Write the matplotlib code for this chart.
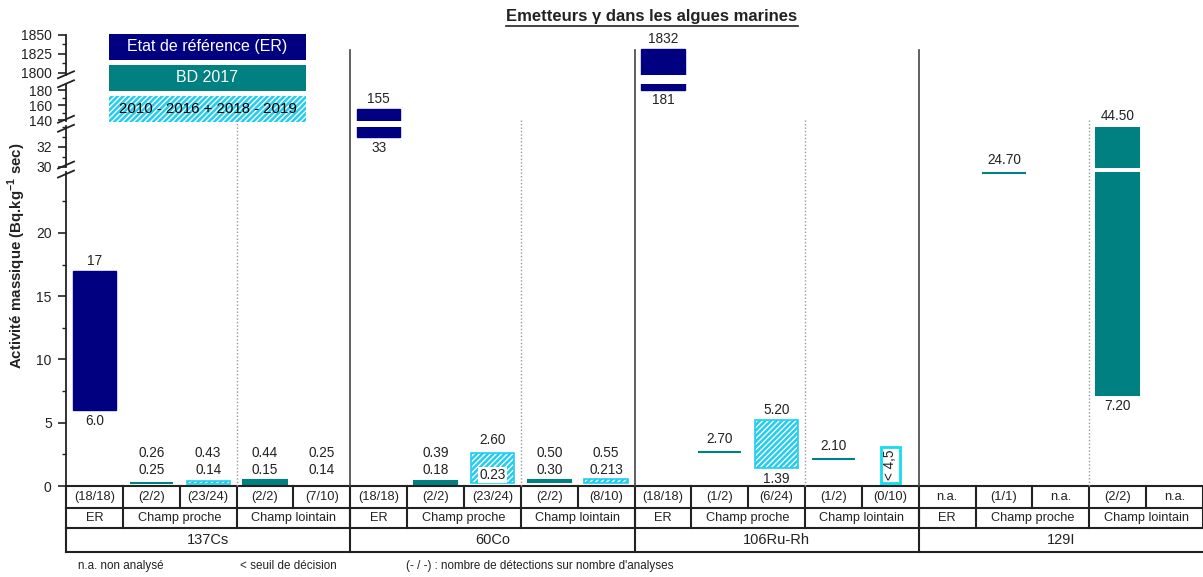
import numpy as np
import matplotlib
matplotlib.use('Agg')
import matplotlib.pyplot as plt
import matplotlib.transforms as mtransforms
from matplotlib.patches import Rectangle
from matplotlib.lines import Line2D
from matplotlib.ticker import MultipleLocator, FixedLocator

plt.rcParams['font.family'] = ['Liberation Sans', 'DejaVu Sans']
plt.rcParams['mathtext.fontset'] = 'custom'
plt.rcParams['mathtext.rm'] = 'Liberation Sans'
plt.rcParams['mathtext.bf'] = 'Liberation Sans:bold'
plt.rcParams['hatch.linewidth'] = 1.0

# ---- data ----
elements = ['137Cs', '60Co', '106Ru-Rh', '129I']
zones = ['ER', 'Champ proche', 'Champ lointain']
zone_span = [1, 2, 2]
counts = ['(18/18)', '(2/2)', '(23/24)', '(2/2)', '(7/10)',
          '(18/18)', '(2/2)', '(23/24)', '(2/2)', '(8/10)',
          '(18/18)', '(1/2)', '(6/24)', '(1/2)', '(0/10)',
          'n.a.', '(1/1)', 'n.a.', '(2/2)', 'n.a.']
# ER = etat de reference, BD = BD 2017 bar, BDline = BD 2017 single value, HIST = 2010-2016 + 2018-2019
series = ['ER', 'BD', 'HIST', 'BD', '',
          'ER', 'BD', 'HIST', 'BD', 'HIST',
          'ER', 'BDline', 'HIST', 'BDline', '',
          '', 'BDline', '', 'BD', '']
low = [6.0, 0.25, 0.14, 0.15, 0.14,
       33, 0.18, 0.23, 0.30, 0.213,
       181, 2.70, 1.39, 2.10, np.nan,
       np.nan, 24.70, np.nan, 7.20, np.nan]
high = [17, 0.26, 0.43, 0.44, 0.25,
        155, 0.39, 2.60, 0.50, 0.55,
        1832, 2.70, 5.20, 2.10, 4.5,
        np.nan, 24.70, np.nan, 44.50, np.nan]
low_txt = ['6.0', '0.25', '0.14', '0.15', '0.14',
           '33', '0.18', '0.23', '0.30', '0.213',
           '181', '', '1.39', '', '',
           '', '', '', '7.20', '']
high_txt = ['17', '0.26', '0.43', '0.44', '0.25',
            '155', '0.39', '2.60', '0.50', '0.55',
            '1832', '2.70', '5.20', '2.10', '< 4,5',
            '', '24.70', '', '44.50', '']
label_mode = ['split', 'stack', 'stack', 'stack', 'stack',
              'split', 'stack', 'inside', 'stack', 'stack',
              'split', 'line', 'split', 'line', 'limit',
              '', 'line', '', 'split', '']

legend_names = ['Etat de référence (ER)', 'BD 2017', '2010 - 2016 + 2018 - 2019']

# broken y axis: value range of each piece (bottom to top)
seg_lims = [(0, 24.85), (29.95, 34.05), (139, 189), (1797, 1850)]
seg_ticks = [[0, 5, 10, 15, 20], [30, 32], [140, 160, 180], [1800, 1825, 1850]]
seg_minor = [2.5, 1, 10, 12.5]

navy = '#000080'
teal = '#008080'
cyan = '#22CDEE'
dark = '#222222'

W, H = 1203, 577
fig = plt.figure(figsize=(W / 100, H / 100), dpi=100)

# pixel layout of the pieces (bottom, top)
seg_px = [(486, 171.6), (167.5, 126.5), (121, 83.5), (75, 35)]
x0, x1 = 66, 1203

axes = []
for (lo, hi), (yb, yt), mj, mn in zip(seg_lims, seg_px, seg_ticks, seg_minor):
    ax = fig.add_axes([x0 / W, 1 - yb / H, (x1 - x0) / W, (yb - yt) / H])
    ax.set_xlim(0, 20)
    ax.set_ylim(lo, hi)
    ax.patch.set_alpha(0)
    for s in ['top', 'right', 'bottom']:
        ax.spines[s].set_visible(False)
    ax.spines['left'].set_color(dark)
    ax.spines['left'].set_linewidth(1.3)
    ax.tick_params(axis='x', bottom=False, labelbottom=False)
    ax.yaxis.set_major_locator(FixedLocator(mj))
    ax.yaxis.set_minor_locator(MultipleLocator(mn))
    ax.tick_params(axis='y', which='major', direction='out', length=5.8, width=1.2,
                   labelsize=10, pad=4.5, colors=dark)
    ax.tick_params(axis='y', which='minor', direction='out', length=2.9, width=1.0, colors=dark)
    axes.append(ax)

bw = 0.76
px = 0.72  # points per pixel at 100 dpi


def visible(v_lo, v_hi):
    return [ax for ax in axes if v_hi >= ax.get_ylim()[0] and v_lo <= ax.get_ylim()[1]]


# bars and lines
for i in range(20):
    xc = i + 0.5
    kind = series[i]
    for ax in axes:
        if kind == 'ER':
            ax.bar(xc, high[i] - low[i], bottom=low[i], width=bw, color=navy, edgecolor=navy, lw=1)
        elif kind == 'BD':
            ax.bar(xc, high[i] - low[i], bottom=low[i], width=bw, color=teal, edgecolor=teal, lw=1.5)
        elif kind == 'HIST':
            ax.bar(xc, high[i] - low[i], bottom=low[i], width=bw, color=cyan, edgecolor='white',
                   hatch='//////', lw=0)
            ax.bar(xc, high[i] - low[i], bottom=low[i], width=bw, fill=False, edgecolor=cyan, lw=1.2)
        elif kind == 'BDline':
            ax.hlines(high[i], xc - bw / 2, xc + bw / 2, color=teal, lw=1.5)

# value labels
lab = dict(ha='center', va='center', fontsize=9.8, color=dark, textcoords='offset points',
           annotation_clip=False)
for i in range(20):
    xc = i + 0.5
    mode = label_mode[i]
    if mode == 'split' or mode == 'inside':
        segs = visible(low[i], high[i])
        top_ax, bot_ax = segs[-1], segs[0]
        ytop = min(high[i], top_ax.get_ylim()[1])
        ybot = max(low[i], bot_ax.get_ylim()[0])
        if mode == 'split':
            top_ax.annotate(high_txt[i], (xc, ytop), xytext=(0, 10 * px), **lab)
            bot_ax.annotate(low_txt[i], (xc, ybot), xytext=(0, -11 * px), **lab)
        else:
            top_ax.annotate(high_txt[i], (xc, ytop), xytext=(0, 13 * px), **lab)
            bot_ax.annotate(low_txt[i], (xc, ybot), xytext=(0, 8 * px),
                            bbox=dict(boxstyle='square,pad=0.1', fc='white', ec='none'), **lab)
    elif mode == 'stack':
        axes[0].annotate(high_txt[i], (xc, 0), xytext=(0, 33 * px), **lab)
        axes[0].annotate(low_txt[i], (xc, 0), xytext=(0, 16 * px), **lab)
    elif mode == 'line':
        ax = visible(high[i], high[i])[0]
        ax.annotate(high_txt[i], (xc, high[i]), xytext=(0, 13 * px), **lab)
    elif mode == 'limit':
        axes[0].annotate(high_txt[i], (xc, 0), xytext=(0, 21 * px), rotation=90,
                         bbox=dict(boxstyle='square,pad=0.2', fc='white', ec='#10DDF0', lw=2),
                         **lab)

# break marks on the y axis
for k in range(3):
    g = (seg_px[k][1] + seg_px[k + 1][0]) / 2
    for d in (-4.5, 4.5):
        fig.add_artist(Line2D([(x0 - 8) / W, (x0 + 8) / W],
                              [1 - (g + d + 3.5) / H, 1 - (g + d - 3.5) / H],
                              color=dark, lw=1.3))

# group separators through all pieces
blend = mtransforms.blended_transform_factory(axes[0].transData, fig.transFigure)
for e in range(1, 4):
    fig.add_artist(Line2D([5 * e, 5 * e], [1 - 50 / H, 1 - 486 / H], transform=blend,
                          color='#444444', lw=1.2))
for e in range(4):
    fig.add_artist(Line2D([5 * e + 3, 5 * e + 3], [1 - 120 / H, 1 - 486 / H], transform=blend,
                          color='#999999', lw=1.0, ls=(0, (1, 1.5))))

# table under the chart
tab = fig.add_axes([x0 / W, 1 - 552 / H, (x1 - x0) / W, 66 / H])
tab.set_xlim(0, 20)
tab.set_ylim(66, 0)
tab.axis('off')
rows = [0, 22, 42, 66]
for r in rows:
    tab.plot([0, 20], [r, r], color=dark, lw=1.5, clip_on=False)
zone_edges = np.cumsum([0] + zone_span)
for k in range(21):
    tab.plot([k, k], [rows[0], rows[1]], color=dark, lw=1.5, clip_on=False)
for e in range(4):
    for z in zone_edges:
        tab.plot([5 * e + z, 5 * e + z], [rows[1], rows[2]], color=dark, lw=1.5, clip_on=False)
    tab.plot([5 * e, 5 * e], [rows[2], rows[3]], color=dark, lw=1.5, clip_on=False)
    for z, name in enumerate(zones):
        tab.text(5 * e + (zone_edges[z] + zone_edges[z + 1]) / 2, 32, name, ha='center',
                 va='center', fontsize=9.2, color=dark)
    tab.text(5 * e + 2.5, 54, elements[e], ha='center', va='center', fontsize=10.5, color=dark)
for i in range(20):
    tab.text(i + 0.5, 11, counts[i], ha='center', va='center', fontsize=9.3, color=dark)

# legend boxes
leg_face = [navy, teal, cyan]
leg_text = ['white', 'white', 'black']
leg_size = [11.5, 11.5, 10.8]
for k in range(3):
    yb = 60 + 31 * k
    fig.add_artist(Rectangle((109 / W, 1 - yb / H), 197 / W, 26 / H, transform=fig.transFigure,
                             facecolor=leg_face[k], edgecolor='white' if k == 2 else leg_face[k],
                             hatch='//////' if k == 2 else None, lw=0))
    fig.text(207.5 / W, 1 - (yb - 13) / H, legend_names[k], ha='center', va='center',
             fontsize=leg_size[k], color=leg_text[k])

# title, axis label, footnotes
title = fig.text(652 / W, 1 - 17 / H, 'Emetteurs γ dans les algues marines', ha='center',
                 va='center', fontsize=12, fontweight='bold', color=dark)
fig.text(17 / W, 1 - 256 / H, r'Activité massique (Bq.kg$^{\mathbf{-1}}$ sec)', rotation=90,
         ha='center', va='center', fontsize=10.8, fontweight='bold', color=dark)
fig.text(78 / W, 1 - 566 / H, 'n.a. non analysé', va='center', fontsize=8.4, color=dark)
fig.text(240 / W, 1 - 566 / H, '< seuil de décision', va='center', fontsize=8.4, color=dark)
fig.text(406 / W, 1 - 566 / H, "(- / -) : nombre de détections sur nombre d'analyses",
         va='center', fontsize=8.4, color=dark)

# underline the title
fig.canvas.draw()
bb = title.get_window_extent()
fig.add_artist(Line2D([bb.x0 / W, bb.x1 / W], [(bb.y0 - 1) / H, (bb.y0 - 1) / H],
                      color=dark, lw=1.2))

fig.savefig('out.png', dpi=100)
